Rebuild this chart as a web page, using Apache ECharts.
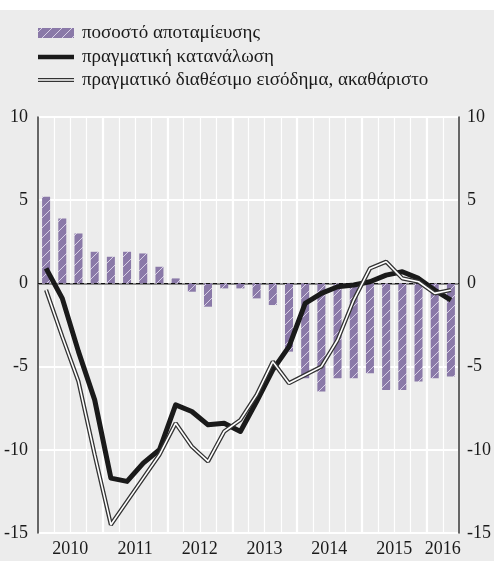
<!DOCTYPE html>
<html>
<head>
<meta charset="utf-8">
<script src="https://cdn.jsdelivr.net/npm/echarts@6/dist/echarts.min.js"></script>
<style>
  html, body { margin: 0; padding: 0; background: #fff; }
  #chart { width: 494px; height: 561px; }
</style>
</head>
<body>
<div id="chart"></div>
<script>
// quarters 2010Q1 .. 2016Q2
const quarters = [
  "2010Q1", "2010Q2", "2010Q3", "2010Q4",
  "2011Q1", "2011Q2", "2011Q3", "2011Q4",
  "2012Q1", "2012Q2", "2012Q3", "2012Q4",
  "2013Q1", "2013Q2", "2013Q3", "2013Q4",
  "2014Q1", "2014Q2", "2014Q3", "2014Q4",
  "2015Q1", "2015Q2", "2015Q3", "2015Q4",
  "2016Q1", "2016Q2"
];
// ποσοστό αποταμίευσης
const savingRate = [5.2, 3.9, 3.0, 1.9, 1.6, 1.9, 1.8, 1.0, 0.3, -0.5, -1.4, -0.3, -0.3,
  -0.9, -1.3, -4.1, -5.7, -6.5, -5.7, -5.7, -5.4, -6.4, -6.4, -5.9, -5.7, -5.6];
// πραγματική κατανάλωση
const consumption = [0.9, -0.9, -4.1, -7.0, -11.7, -11.9, -10.8, -10.0, -7.3, -7.7, -8.5, -8.4, -8.9,
  -7.1, -5.2, -3.8, -1.2, -0.6, -0.2, -0.1, 0.1, 0.5, 0.7, 0.3, -0.4, -1.0];
// πραγματικό διαθέσιμο εισόδημα, ακαθάριστο
const income = [-0.4, -3.2, -5.9, -10.3, -14.5, -13.1, -11.7, -10.3, -8.4, -9.8, -10.7, -8.9, -8.2,
  -6.7, -4.7, -6.0, -5.5, -5.0, -3.4, -1.0, 0.9, 1.3, 0.3, 0.1, -0.6, -0.4];
const yTicks = [10, 5, 0, -5, -10, -15];
// where the year label sits (between 2nd and 3rd quarter, 2016 has only two)
const yearLabelIdx = [1, 5, 9, 13, 17, 21, 24];
const names = ["ποσοστό αποταμίευσης", "πραγματική κατανάλωση", "πραγματικό διαθέσιμο εισόδημα, ακαθάριστο"];

const PURPLE = "#8a79a8";
const FONT = "'Liberation Serif', 'DejaVu Serif', serif";

// hatched fill
function hatch() {
  const c = document.createElement("canvas");
  c.width = 10;
  c.height = 10;
  const g = c.getContext("2d");
  g.fillStyle = PURPLE;
  g.fillRect(0, 0, 10, 10);
  g.strokeStyle = "rgba(235,230,245,0.8)";
  g.lineWidth = 1;
  g.beginPath();
  g.moveTo(-1, 11); g.lineTo(11, -1);
  g.moveTo(-1, 1); g.lineTo(1, -1);
  g.moveTo(9, 11); g.lineTo(11, 9);
  g.stroke();
  return c;
}
const pattern = { image: hatch(), repeat: "repeat" };

const chart = echarts.init(document.getElementById("chart"));

chart.setOption({
  backgroundColor: "#ececec",
  animation: false,
  textStyle: { fontFamily: FONT },
  grid: { left: 38, right: 32, top: 117, bottom: 28 },
  graphic: [
    { type: "rect", left: 0, top: 0, shape: { width: 494, height: 10 }, style: { fill: "#fff" } },
    // legend
    { type: "rect", shape: { x: 38, y: 28, width: 36, height: 10 }, style: { fill: pattern } },
    { type: "text", x: 82, y: 33, style: { text: names[0], font: "19px " + FONT, fill: "#1a1a1a", verticalAlign: "middle" } },
    { type: "line", shape: { x1: 38, y1: 57, x2: 74, y2: 57 }, style: { stroke: "#1a1a1a", lineWidth: 4.5 } },
    { type: "text", x: 82, y: 57, style: { text: names[1], font: "19px " + FONT, fill: "#1a1a1a", verticalAlign: "middle" } },
    { type: "line", shape: { x1: 38, y1: 80, x2: 74, y2: 80 }, style: { stroke: "#333", lineWidth: 4 } },
    { type: "line", shape: { x1: 38, y1: 80, x2: 74, y2: 80 }, style: { stroke: "#fff", lineWidth: 1.6 } },
    { type: "text", x: 82, y: 80, style: { text: names[2], font: "19px " + FONT, fill: "#1a1a1a", verticalAlign: "middle" } }
  ],
  xAxis: [
    {
      type: "category",
      data: quarters,
      axisLine: { lineStyle: { color: "#666", width: 1.5 } },
      axisTick: { interval: 0, length: 7, lineStyle: { color: "#666", width: 1.5 } },
      axisLabel: {
        interval: (i) => yearLabelIdx.includes(i),
        formatter: (v) => v.slice(0, 4),
        padding: [0, 0, 0, 16],
        fontSize: 18,
        color: "#1a1a1a",
        margin: 7
      },
      splitLine: { show: true, interval: 0, lineStyle: { color: "#fff", width: 1.2 } }
    },
    {
      type: "category",
      data: quarters,
      position: "bottom",
      axisLine: { show: false },
      axisTick: { interval: (i) => i % 4 === 0, length: 11, lineStyle: { color: "#666", width: 1.5 } },
      axisLabel: { show: false },
      splitLine: { show: true, interval: (i) => i % 4 === 0, lineStyle: { color: "#fff", width: 2.2 } }
    }
  ],
  yAxis: [
    {
      type: "value", min: -15, max: 10, interval: 5,
      axisLine: { show: true, lineStyle: { color: "#333", width: 1.5 } },
      axisTick: { show: false },
      axisLabel: { fontSize: 18, color: "#1a1a1a", margin: 10, formatter: (v) => yTicks.includes(v) ? String(v) : "" },
      splitLine: { lineStyle: { color: "#fff", width: 2 } }
    },
    {
      type: "value", min: -15, max: 10, interval: 5, position: "right",
      axisLine: { show: true, lineStyle: { color: "#333", width: 1.5 } },
      axisTick: { show: false },
      axisLabel: { fontSize: 18, color: "#1a1a1a", margin: 8 },
      splitLine: { show: false }
    }
  ],
  series: [
    {
      name: names[0],
      type: "bar",
      data: savingRate,
      barWidth: 8,
      itemStyle: { color: pattern },
      markLine: {
        silent: true,
        symbol: "none",
        label: { show: false },
        lineStyle: { color: "#111", type: [4, 3], width: 1.2 },
        data: [{ yAxis: 0 }]
      },
      z: 2
    },
    {
      name: names[1],
      type: "line",
      data: consumption,
      symbol: "none",
      lineStyle: { color: "#1a1a1a", width: 5, join: "round" },
      z: 4
    },
    {
      name: names[2] + " (outline)",
      type: "line",
      data: income,
      symbol: "none",
      lineStyle: { color: "#333", width: 4.2 },
      z: 5
    },
    {
      name: names[2],
      type: "line",
      data: income,
      symbol: "none",
      lineStyle: { color: "#fff", width: 1.6 },
      z: 6
    }
  ]
});
</script>
</body>
</html>
